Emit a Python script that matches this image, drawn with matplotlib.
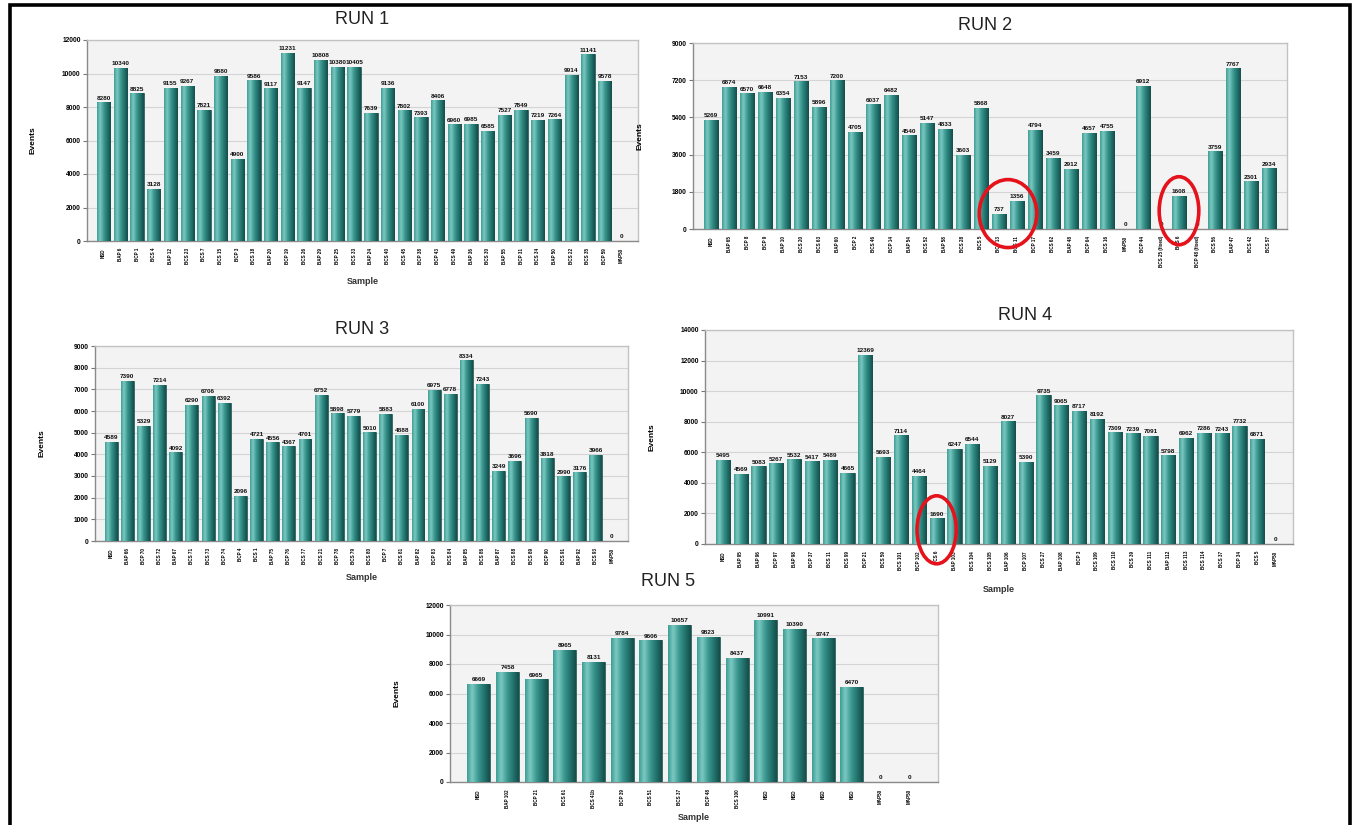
import numpy as np
import matplotlib
matplotlib.use("Agg")
import matplotlib.pyplot as plt
from matplotlib.colors import LinearSegmentedColormap
from matplotlib.patches import Ellipse, Rectangle

plt.rcParams['font.family'] = ['Liberation Sans', 'DejaVu Sans']

# ---------------- data ----------------
run1_labels = ["NSD", "BAP 6", "BCP 1", "BCS 4", "BAP 12", "BCS 23", "BCS 7", "BCS 15",
               "BCP 3", "BCS 18", "BAP 20", "BCP 19", "BCS 26", "BAP 29", "BCP 25", "BCS 33",
               "BAP 24", "BCS 40", "BCS 45", "BCP 38", "BCP 43", "BCS 49", "BAP 36", "BCS 30",
               "BAP 55", "BCP 31", "BCS 34", "BAP 50", "BCS 22", "BCS 35", "BCP 59", "MAP50"]
run1_values = [8280, 10340, 8825, 3128, 9155, 9267, 7821, 9880, 4900, 9586, 9117, 11231,
               9147, 10808, 10380, 10405, 7639, 9136, 7802, 7393, 8406, 6960, 6985, 6585,
               7527, 7849, 7219, 7264, 9914, 11141, 9578, 0]

run2_labels = ["NSD", "BAP 65", "BCP 8", "BCP 9", "BAP 10", "BCS 20", "BCS 63", "BAP 60",
               "BCP 2", "BCS 46", "BCP 14", "BAP 54", "BCS 52", "BAP 58", "BCS 28", "BCS 5",
               "BCP 13", "BCS 11", "BCP 17", "BCS 62", "BAP 48", "BCP 64", "BCS 16", "MAP50",
               "BCP 44", "BCS 25 (fixed)", "BCS 6", "BCP 48 (fixed)", "BCS 56", "BAP 47",
               "BCS 42", "BCS 57"]
run2_values = [5269, 6874, 6570, 6648, 6354, 7153, 5896, 7200, 4705, 6037, 6482, 4540,
               5147, 4833, 3603, 5868, 737, 1356, 4794, 3459, 2912, 4657, 4755, 0,
               6912, 0, 1608, 0, 3759, 7767, 2301, 2934]
run2_circled = [(16, 17), (26,)]

run3_labels = ["NSD", "BAP 66", "BCP 70", "BCS 72", "BAP 67", "BCS 71", "BCS 73", "BCP 74",
               "BCP 4", "BCS 1", "BAP 75", "BCP 76", "BCS 77", "BCS 21", "BCP 78", "BCS 79",
               "BCS 80", "BCP 7", "BCS 81", "BAP 82", "BCP 83", "BCS 84", "BAP 85", "BCS 86",
               "BAP 87", "BCS 88", "BCS 89", "BCP 90", "BCS 91", "BAP 92", "BCS 93", "MAP50"]
run3_values = [4589, 7390, 5329, 7214, 4092, 6290, 6706, 6392, 2096, 4721, 4556, 4367,
               4701, 6752, 5898, 5779, 5010, 5883, 4888, 6100, 6975, 6778, 8334, 7243,
               3249, 3696, 5690, 3818, 2990, 3176, 3966, 0]

run4_labels = ["NSD", "BAP 95", "BAP 96", "BCP 97", "BAP 98", "BCP 37", "BCS 11", "BCS 99",
               "BCP 21", "BCS 59", "BCS 101", "BCP 102", "BCS 6", "BAP 103", "BCS 104", "BCS 105",
               "BAP 106", "BCP 107", "BCS 27", "BAP 108", "BCP 3", "BCS 109", "BCS 110", "BCS 39",
               "BCS 111", "BAP 112", "BCS 113", "BCS 114", "BCS 37", "BCP 34", "BCS 5", "MAP50"]
run4_values = [5495, 4569, 5083, 5267, 5532, 5417, 5489, 4665, 12369, 5693, 7114, 4464,
               1690, 6247, 6544, 5129, 8027, 5390, 9735, 9065, 8717, 8192, 7309, 7239,
               7091, 5798, 6962, 7286, 7243, 7732, 6871, 0]
run4_circled = [(12,)]

run5_labels = ["NSD", "BAP 102", "BCP 21", "BCS 61", "BCS 41b", "BCP 39", "BCS 51", "BCS 37",
               "BCP 48", "BCS 100", "NSD", "NSD", "NSD", "NSD", "MAP50", "MAP50"]
run5_values = [6669, 7458, 6965, 8965, 8131, 9784, 9606, 10657, 9823, 8437, 10991, 10390,
               9747, 6470, 0, 0]

# ---------------- styling ----------------
W, H = 1359, 825
fig = plt.figure(figsize=(W / 100, H / 100), dpi=100)

teal = LinearSegmentedColormap.from_list(
    "teal", [(0.0, "#3d9c95"), (0.22, "#7ccac2"), (0.5, "#3a978f"),
             (0.8, "#1f6c67"), (1.0, "#164c48")])
grad = np.linspace(0, 1, 64).reshape(1, -1)

panels = [
    dict(title="RUN 1", labels=run1_labels, values=run1_values, ymax=12000, ystep=2000,
         box=(87, 40, 638, 241), title_y=20, title_x=362, sample_y=281, circled=[]),
    dict(title="RUN 2", labels=run2_labels, values=run2_values, ymax=9000, ystep=1800,
         box=(693, 43, 1287, 229), title_y=25, title_x=985, sample_y=None, circled=run2_circled),
    dict(title="RUN 3", labels=run3_labels, values=run3_values, ymax=9000, ystep=1000,
         box=(95, 346, 628, 541), title_y=330, title_x=362, sample_y=577, circled=[]),
    dict(title="RUN 4", labels=run4_labels, values=run4_values, ymax=14000, ystep=2000,
         box=(705, 330, 1293, 544), title_y=316, title_x=1025, sample_y=589, circled=run4_circled),
    dict(title="RUN 5", labels=run5_labels, values=run5_values, ymax=12000, ystep=2000,
         box=(450, 605, 938, 782), title_y=582, title_x=668, sample_y=818, circled=[]),
]

RING_H_PX = 68

for p in panels:
    l, t, r, b = p["box"]
    ax = fig.add_axes([l / W, 1 - b / H, (r - l) / W, (b - t) / H])
    ax.set_facecolor("#f3f3f3")
    n = len(p["values"])
    x = np.arange(n)
    bars = ax.bar(x, p["values"], width=0.8, color="#2f8c85", edgecolor="#1a4d4a",
                  linewidth=0.5, zorder=3)
    for bar in bars:
        h = bar.get_height()
        if h <= 0:
            continue
        x0 = bar.get_x()
        im = ax.imshow(grad, extent=[x0, x0 + bar.get_width(), 0, h], aspect="auto",
                       cmap=teal, zorder=3.5, interpolation="bicubic")
        im.set_clip_path(bar)
    for xi, v in zip(x, p["values"]):
        ax.annotate(str(v), (xi, v), xytext=(0, 1.2), textcoords="offset points",
                    ha="center", va="bottom", fontsize=4.6, fontweight="bold",
                    color="#111111", zorder=5)
    ax.set_xlim(-1, n)
    ax.set_ylim(0, p["ymax"])
    ax.set_yticks(np.arange(0, p["ymax"] + 1, p["ystep"]))
    ax.set_xticks(x)
    ax.set_xticklabels(p["labels"], rotation=90, fontsize=3.3, fontweight="bold")
    ax.set_xticks(np.arange(4, n, 5), minor=True)
    ax.tick_params(axis="x", which="major", length=0, pad=5)
    ax.tick_params(axis="x", which="minor", length=3, color="#777777")
    ax.tick_params(axis="y", length=3, labelsize=4.8, color="#777777", pad=1.5)
    for lab in ax.get_yticklabels():
        lab.set_fontweight("bold")
    ax.grid(axis="y", which="major", color="#d4d4d4", linewidth=0.8, zorder=0)
    ax.grid(axis="x", which="minor", color="#d4d4d4", linewidth=0.8, zorder=0)
    ax.set_axisbelow(True)
    for s in ("left", "bottom"):
        ax.spines[s].set_color("#8a8a8a")
        ax.spines[s].set_linewidth(1.0)
    for s in ("top", "right"):
        ax.spines[s].set_color("#c2c2c2")
        ax.spines[s].set_linewidth(1.0)
    ax.set_ylabel("Events", fontsize=6, fontweight="bold")
    ax.yaxis.set_label_coords(-50 / (r - l), 0.5)
    fig.text(p["title_x"] / W, 1 - p["title_y"] / H, p["title"], ha="center", va="center",
             fontsize=13, color="#222222")
    if p["sample_y"] is not None:
        fig.text((l + r) / 2 / W, 1 - p["sample_y"] / H, "Sample", ha="center",
                 va="center", fontsize=6.5, fontweight="bold", color="#333333")
    # red highlight rings
    ring_h = RING_H_PX / (b - t) * p["ymax"]
    for grp in p["circled"]:
        cx = float(np.mean(grp))
        vmax = max(p["values"][i] for i in grp)
        e = Ellipse((cx, vmax * 0.55), width=len(grp) + 1.2, height=ring_h,
                    fill=False, edgecolor="#e5121b", linewidth=2.6, zorder=6, clip_on=False)
        ax.add_patch(e)

# outer frame
fig.patches.append(Rectangle((10 / W, -0.02), (1350 - 10) / W, 1.02 - 5 / H,
                             transform=fig.transFigure, fill=False, edgecolor="black",
                             linewidth=2.6))

fig.savefig("out.png", dpi=100)
